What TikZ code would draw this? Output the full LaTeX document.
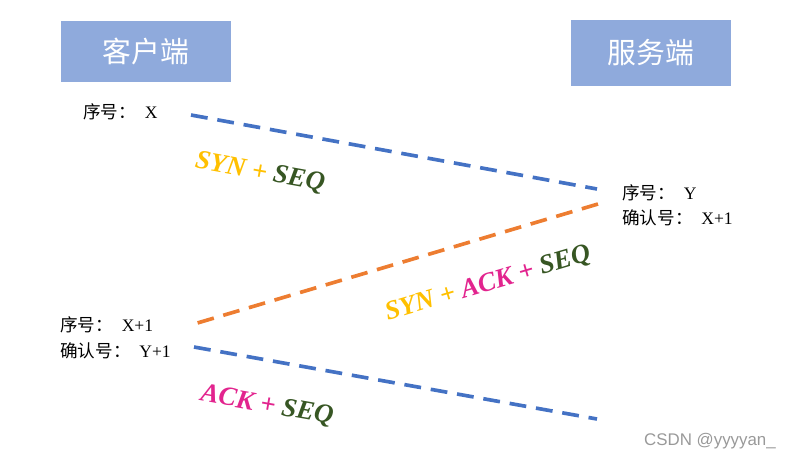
\documentclass[tikz,border=0pt]{standalone}
\usepackage{fontspec}
\setmainfont{Liberation Serif}
\setsansfont{Liberation Sans}
\newfontfamily\cjk{Noto Sans CJK SC}
\usepackage{xcolor}
\usetikzlibrary{positioning}

\definecolor{hdrblue}{HTML}{8FAADC}
\definecolor{lineblue}{HTML}{4472C4}
\definecolor{lineorange}{HTML}{ED7D31}
\definecolor{synyellow}{HTML}{FFC000}
\definecolor{ackpink}{HTML}{E2248E}
\definecolor{seqgreen}{HTML}{375623}

\begin{document}
\begin{tikzpicture}[
			x=0.025cm, y=-0.025cm,
			header/.style={rectangle, fill=hdrblue, text=white, inner sep=0pt,
				font=\cjk\fontsize{20.5}{24}\selectfont},
			info/.style={anchor=west, inner sep=0pt, font=\fontsize{12.5}{14}\selectfont},
			msgline/.style={line width=2.6pt, dash pattern=on 12pt off 7pt},
			msgtext/.style={inner sep=0pt, font=\bfseries\itshape\fontsize{19}{22}\selectfont}
			]
			\useasboundingbox (0,0) rectangle (793,462);
			% hosts
			\node[header, minimum width=4.25cm, minimum height=1.525cm] (client) at (146,51.5) {客户端};
			\node[header, minimum width=4cm, minimum height=1.65cm] (server) at (651,53) {服务端};
			
			% sequence numbers
			\node[info] (cseq) at (83,112) {{\cjk 序号：}\enspace X};
			\node[info] (sseq) at (622,193) {{\cjk 序号：}\enspace Y};
			\node[info] (sack) at (622,218) {{\cjk 确认号：}\enspace X+1};
			\node[info] (cseqb) at (60,325) {{\cjk 序号：}\enspace X+1};
			\node[info] (cackb) at (60,351) {{\cjk 确认号：}\enspace Y+1};
			
			% line ends
			\coordinate (c1) at (191,115);
			\coordinate (s1) at (597,189);
			\coordinate (s2) at (598,204);
			\coordinate (c2) at (194,324);
			\coordinate (c3) at (194,347);
			\coordinate (s3) at (597,419);
			
			\draw[msgline, lineblue] (c1) -- (s1);
			\draw[msgline, lineorange] (s2) -- (c2);
			\draw[msgline, lineblue] (c3) -- (s3);
			
			% messages
			\node[msgtext, rotate=-10.3] (syn) at (260,173)
				{\textcolor{synyellow}{SYN +} \textcolor{seqgreen}{SEQ}};
			\node[msgtext, rotate=16.5] (synack) at (488,284)
				{\textcolor{synyellow}{SYN +} \textcolor{ackpink}{ACK +} \textcolor{seqgreen}{SEQ}};
			\node[msgtext, rotate=-10.1] (ack) at (267,406)
				{\textcolor{ackpink}{ACK +} \textcolor{seqgreen}{SEQ}};
			
			\node[font=\sffamily\fontsize{12}{14}\selectfont, text=black!40, inner sep=0pt] (mark) at (710,441) {CSDN @yyyyan\_};
		\end{tikzpicture}
\end{document}
